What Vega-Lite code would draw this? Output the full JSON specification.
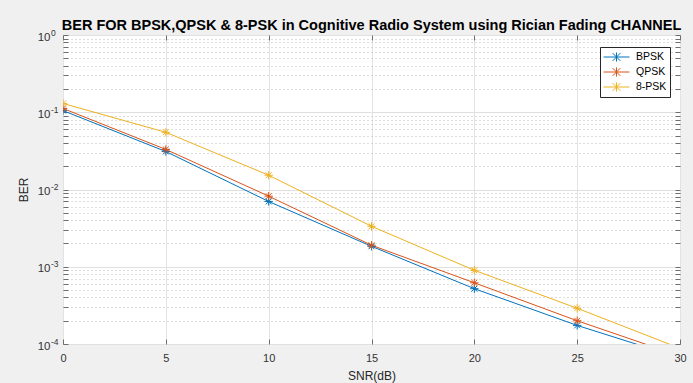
{
  "$schema": "https://vega.github.io/schema/vega-lite/v6.json",
  "autosize": {"type": "none"},
  "padding": {"left": 63, "top": 35, "right": 13, "bottom": 39},
  "width": 617,
  "height": 309,
  "background": "#f0f0f0",
  "title": {"text": "BER FOR BPSK,QPSK & 8-PSK in Cognitive Radio System using Rician Fading CHANNEL", "font": "Liberation Sans", "fontSize": 14.5, "fontWeight": "bold", "color": "#000000", "anchor": "middle", "offset": 1, "dy": 6},
  "config": {
    "view": {"fill": "white", "stroke": "#6e6e6e", "strokeWidth": 1},
    "axis": {"labelFont": "Liberation Sans", "titleFont": "Liberation Sans", "labelColor": "#333333", "titleColor": "#262626", "titleFontWeight": "normal", "domain": false, "tickColor": "#6e6e6e"}
  },
  "datasets": {
    "curves": [
      {"snr": 0, "ber": 0.105, "mod": "BPSK"},
      {"snr": 5, "ber": 0.031, "mod": "BPSK"},
      {"snr": 10, "ber": 0.0070, "mod": "BPSK"},
      {"snr": 15, "ber": 0.00184, "mod": "BPSK"},
      {"snr": 20, "ber": 0.00052, "mod": "BPSK"},
      {"snr": 25, "ber": 0.000174, "mod": "BPSK"},
      {"snr": 30, "ber": 0.000066, "mod": "BPSK"},
      {"snr": 0, "ber": 0.112, "mod": "QPSK"},
      {"snr": 5, "ber": 0.033, "mod": "QPSK"},
      {"snr": 10, "ber": 0.0082, "mod": "QPSK"},
      {"snr": 15, "ber": 0.0019, "mod": "QPSK"},
      {"snr": 20, "ber": 0.00062, "mod": "QPSK"},
      {"snr": 25, "ber": 0.0002, "mod": "QPSK"},
      {"snr": 30, "ber": 0.00007, "mod": "QPSK"},
      {"snr": 0, "ber": 0.13, "mod": "8-PSK"},
      {"snr": 5, "ber": 0.055, "mod": "8-PSK"},
      {"snr": 10, "ber": 0.0153, "mod": "8-PSK"},
      {"snr": 15, "ber": 0.00334, "mod": "8-PSK"},
      {"snr": 20, "ber": 0.0009, "mod": "8-PSK"},
      {"snr": 25, "ber": 0.00029, "mod": "8-PSK"},
      {"snr": 30, "ber": 0.000088, "mod": "8-PSK"}
    ],
    "exponents": [
      {"ber": 1, "exp": "0"},
      {"ber": 0.1, "exp": "-1"},
      {"ber": 0.01, "exp": "-2"},
      {"ber": 0.001, "exp": "-3"},
      {"ber": 0.0001, "exp": "-4"}
    ]
  },
  "resolve": {"axis": {"x": "independent", "y": "independent"}},
  "layer": [
    {
      "data": {"name": "curves"},
      "encoding": {
        "x": {"field": "snr", "type": "quantitative", "scale": {"domain": [0, 30], "nice": false},
          "axis": {"values": [0, 5, 10, 15, 20, 25, 30], "title": "SNR(dB)", "titleFontSize": 12, "labelFontSize": 11, "grid": true, "gridColor": "#e3e3e3", "tickSize": -5, "labelPadding": 13, "titlePadding": 7, "labelFlush": false}},
        "y": {"field": "ber", "type": "quantitative", "scale": {"type": "log", "domain": [0.0001, 1], "nice": false},
          "axis": {"values": [0.0001, 0.0002, 0.0003, 0.0004, 0.0005, 0.0006, 0.0007, 0.0008, 0.0009, 0.001, 0.002, 0.003, 0.004, 0.005, 0.006, 0.007, 0.008, 0.009, 0.01, 0.02, 0.03, 0.04, 0.05, 0.06, 0.07, 0.08, 0.09, 0.1, 0.2, 0.3, 0.4, 0.5, 0.6, 0.7, 0.8, 0.9, 1],
            "labelExpr": "indexof([1, 0.1, 0.01, 0.001, 0.0001], datum.value) >= 0 ? '10' : ''",
            "title": "BER", "titleFontSize": 12, "labelFontSize": 11.5, "grid": true, "labelFlush": false, "labelOffset": 2,
            "gridColor": {"condition": {"test": "indexof([1, 0.1, 0.01, 0.001, 0.0001], datum.value) >= 0", "value": "#e0e0e0"}, "value": "#bdbdbd"},
            "gridDash": {"condition": {"test": "indexof([1, 0.1, 0.01, 0.001, 0.0001], datum.value) >= 0", "value": []}, "value": [1, 3]},
            "tickSize": -5, "labelPadding": 18, "titlePadding": 7}},
        "color": {"field": "mod", "type": "nominal", "scale": {"domain": ["BPSK", "QPSK", "8-PSK"], "range": ["#0072BD", "#D95319", "#EDB120"]},
          "legend": {"title": null, "orient": "none", "legendX": 537, "legendY": 12, "fillColor": "white", "strokeColor": "#262626", "padding": 3, "rowPadding": 1, "labelFont": "Liberation Sans", "labelFontSize": 10.5, "labelColor": "#000000", "symbolType": "M-1,0H3M0.4,-0.6L1.6,0.6M0.4,0.6L1.6,-0.6M1,-0.7V0.7", "symbolSize": 169, "symbolStrokeWidth": 1, "symbolFillColor": "transparent", "labelOffset": 19}}
      },
      "layer": [
        {"mark": {"type": "line", "strokeWidth": 1, "clip": true}},
        {"mark": {"type": "point", "shape": "M-1,0H1M0,-1V1M-0.7,-0.7L0.7,0.7M-0.7,0.7L0.7,-0.7", "size": 70, "filled": false, "strokeWidth": 1, "opacity": 1, "clip": true}}
      ]
    },
    {
      "data": {"name": "exponents"},
      "mark": {"type": "text", "font": "Liberation Sans", "fontSize": 8.5, "align": "left", "baseline": "alphabetic", "dx": -12, "dy": 0.5, "color": "#333333"},
      "encoding": {
        "x": {"datum": 0, "type": "quantitative",
          "axis": {"orient": "top", "values": [0, 5, 10, 15, 20, 25, 30], "labels": false, "grid": false, "title": null, "tickSize": -5}},
        "y": {"field": "ber", "type": "quantitative",
          "axis": {"orient": "right", "values": [0.0001, 0.0002, 0.0003, 0.0004, 0.0005, 0.0006, 0.0007, 0.0008, 0.0009, 0.001, 0.002, 0.003, 0.004, 0.005, 0.006, 0.007, 0.008, 0.009, 0.01, 0.02, 0.03, 0.04, 0.05, 0.06, 0.07, 0.08, 0.09, 0.1, 0.2, 0.3, 0.4, 0.5, 0.6, 0.7, 0.8, 0.9, 1], "labels": false, "grid": false, "title": null, "tickSize": -5}},
        "text": {"field": "exp", "type": "nominal"}
      }
    }
  ]
}
